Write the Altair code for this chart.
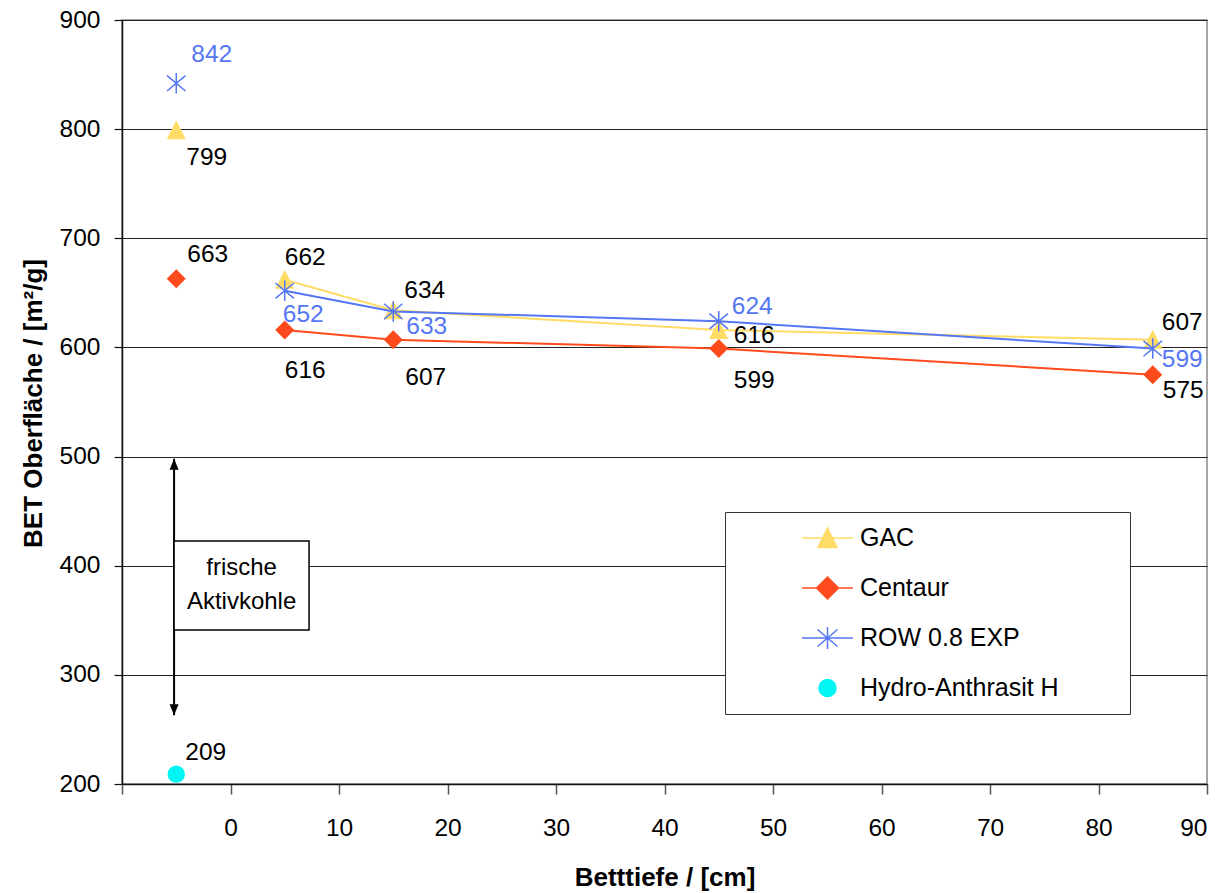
import altair as alt
import pandas as pd

# ---------------- data ----------------
DEPTH = [-5, 5, 15, 45, 85]
GAC = [799, 662, 634, 616, 607]
CENTAUR = [663, 616, 607, 599, 575]
ROW = [842, 652, 633, 624, 599]
HYDRO_DEPTH = [-5]
HYDRO = [209]
SERIES = ["GAC", "Centaur", "ROW 0.8 EXP", "Hydro-Anthrasit H"]
X_TICKS = [-10, 0, 10, 20, 30, 40, 50, 60, 70, 80, 90]
Y_TICKS = [200, 300, 400, 500, 600, 700, 800, 900]

# annotation ("frische Aktivkohle") in data units
BOX = {"bx1": -5.2, "bx2": 7.24, "by1": 341.0, "by2": 422.6}
ARROW = {"ax": -5.2, "ay_low": 263.0, "ay_high": 498.0}
NOTE_TEXT = "frische\nAktivkohle"
NOTE_POS = {"tx": 1.02, "ty": 397.9}

# ---------------- styles ----------------
FONT = "Liberation Sans"
COLORS = {"GAC": "#FFDC66", "Centaur": "#FF4A1E", "ROW 0.8 EXP": "#5577F5",
          "Hydro-Anthrasit H": "#00F5F5"}
LABEL_COLORS = {"GAC": "black", "Centaur": "black", "ROW 0.8 EXP": "#5577F5",
                "Hydro-Anthrasit H": "black"}
ASTER = "M0,-1L0,1M-0.9,-0.75L0.9,0.75M-0.9,0.75L0.9,-0.75"
TRI = "M0,-1L0.95,0.9L-0.95,0.9Z"
MARKERS = {
    "GAC": dict(shape=TRI, size=400, filled=True),
    "Centaur": dict(shape="diamond", size=360, filled=True),
    "ROW 0.8 EXP": dict(shape=ASTER, size=420, filled=False, strokeWidth=1.5),
    "Hydro-Anthrasit H": dict(shape="circle", size=300, filled=True),
}
# label offsets in pixels (dx, dy) for each (series, depth)
LABEL_OFFSETS = {
    ("ROW 0.8 EXP", -5): (15, -28), ("GAC", -5): (10, 28), ("Centaur", -5): (11, -24),
    ("Hydro-Anthrasit H", -5): (9, -21),
    ("GAC", 5): (0, -22), ("ROW 0.8 EXP", 5): (-2, 24), ("Centaur", 5): (0, 41),
    ("GAC", 15): (11, -19), ("ROW 0.8 EXP", 15): (13, 16), ("Centaur", 15): (12, 38),
    ("ROW 0.8 EXP", 45): (13, -14), ("GAC", 45): (15, 6), ("Centaur", 45): (15, 32),
    ("GAC", 85): (9, -17), ("ROW 0.8 EXP", 85): (9, 11), ("Centaur", 85): (10, 16),
}
# legend symbols: line + marker (unit = 29.25 px)
LEG_SIZE = 3422
LEG_SHAPES = [
    "M-0.872,0L0.872,0M0,-0.342L0.325,0.325L-0.325,0.325Z",
    "M-0.872,0L0.872,0M-0.376,0L0,-0.376L0.376,0L0,0.376Z",
    "M-0.872,0L0.872,0M0,-0.376L0,0.376M-0.342,-0.291L0.342,0.291M-0.342,0.291L0.342,-0.291",
    "M-0.291,0A0.291,0.291 0 1,1 0.291,0A0.291,0.291 0 1,1 -0.291,0Z",
]
# invisible trailing spaces (kept by a zero-width end char) widen the legend frame
LEG_LABEL_EXPR = "datum.label + '" + "\u00a0" * 10 + "\u200b'"

rows = []
for name, vals, xs in [("GAC", GAC, DEPTH), ("Centaur", CENTAUR, DEPTH),
                       ("ROW 0.8 EXP", ROW, DEPTH), ("Hydro-Anthrasit H", HYDRO, HYDRO_DEPTH)]:
    for d, v in zip(xs, vals):
        rows.append({"series": name, "depth": d, "value": v})
df = pd.DataFrame(rows)

X = alt.X("depth:Q", scale=alt.Scale(domain=[-10, 90], nice=False, zero=False),
          axis=alt.Axis(values=X_TICKS, labelExpr="datum.value == -10 ? '' : datum.label",
                        title="Betttiefe / [cm]", grid=False, tickSize=10, labelPadding=22,
                        tickColor="#555", tickWidth=1.5, domainColor="#111", domainWidth=1.5,
                        labelFont=FONT, labelFontSize=24.5, labelColor="black",
                        titleFont=FONT, titleFontSize=26, titleFontWeight="bold",
                        titleColor="black", titleY=101, titleBaseline="alphabetic"))
Y = alt.Y("value:Q", scale=alt.Scale(domain=[200, 900], nice=False, zero=False),
          axis=alt.Axis(values=Y_TICKS, title="BET Oberfläche / [m²/g]", grid=True,
                        gridColor="#222", gridWidth=1, tickSize=8, labelPadding=14,
                        tickColor="#111", tickWidth=1.2, domainColor="#111", domainWidth=1.5,
                        labelFont=FONT, labelFontSize=24.5, labelColor="black",
                        titleFont=FONT, titleFontSize=26, titleFontWeight="bold",
                        titleColor="black", titleAngle=270, titleX=-81, titleY=383,
                        titleAlign="center", titleBaseline="alphabetic"))

base = alt.Chart(df)
layers = []

# annotation: arrow + box + text
ann_df = pd.DataFrame([{**BOX, **ARROW, **NOTE_POS, "txt": NOTE_TEXT}])
ann = alt.Chart(ann_df)
layers.append(ann.mark_rule(color="black", strokeWidth=2).encode(
    x=alt.X("ax:Q"), y=alt.Y("ay_low:Q"), y2="ay_high:Q"))
layers.append(ann.mark_point(shape="M0,0L0.45,1.1L-0.45,1.1Z", size=400, filled=True,
                             color="black", opacity=1).encode(x="ax:Q", y="ay_high:Q"))
layers.append(ann.mark_point(shape="M0,0L0.45,-1.1L-0.45,-1.1Z", size=400, filled=True,
                             color="black", opacity=1).encode(x="ax:Q", y="ay_low:Q"))
layers.append(ann.mark_rect(fill="white", stroke="black", strokeWidth=1.5).encode(
    x="bx1:Q", x2="bx2:Q", y="by1:Q", y2="by2:Q"))
layers.append(ann.mark_text(font=FONT, fontSize=24, color="black", lineBreak="\n",
                            lineHeight=34, align="center", baseline="middle").encode(
    x=alt.X("tx:Q"), y=alt.Y("ty:Q"), text="txt:N"))

# series lines and markers
for s in SERIES:
    sub = base.transform_filter(alt.datum.series == s)
    if s != "Hydro-Anthrasit H":
        layers.append(sub.transform_filter(alt.datum.depth > 0).mark_line(
            color=COLORS[s], strokeWidth=2).encode(x=X, y=Y))
    m = MARKERS[s]
    kw = dict(shape=m["shape"], size=m["size"], filled=m["filled"], opacity=1)
    if m["filled"]:
        kw.update(fill=COLORS[s], strokeWidth=0)
    else:
        kw.update(stroke=COLORS[s], strokeWidth=m["strokeWidth"])
    layers.append(sub.mark_point(**kw).encode(x=X, y=Y))

# data labels
for (s, d), (dx, dy) in LABEL_OFFSETS.items():
    layers.append(base.transform_filter((alt.datum.series == s) & (alt.datum.depth == d))
                  .mark_text(font=FONT, fontSize=24.5, color=LABEL_COLORS[s], align="left",
                             baseline="middle", dx=dx, dy=dy)
                  .encode(x=X, y=Y, text="value:Q"))

# legend (from an empty layer)
leg = alt.Legend(title=None, orient="none", legendX=603, legendY=492, padding=1,
                 clipHeight=50, rowPadding=0, symbolSize=LEG_SIZE, symbolStrokeWidth=1.5,
                 symbolOffset=71.5, labelOffset=2.5, labelFontSize=25, labelFont=FONT,
                 labelColor="black", fillColor="white", strokeColor="#333", labelLimit=600,
                 symbolOpacity=1, labelExpr=LEG_LABEL_EXPR)
col_scale = alt.Scale(domain=SERIES, range=[COLORS[s] for s in SERIES])
layers.append(base.transform_filter("false").mark_point(filled=True, size=LEG_SIZE,
                                                         strokeWidth=1.5).encode(
    fill=alt.Fill("series:N", scale=col_scale, legend=leg),
    stroke=alt.Stroke("series:N", scale=col_scale, legend=leg),
    shape=alt.Shape("series:N", scale=alt.Scale(domain=SERIES, range=LEG_SHAPES), legend=leg),
))

chart = alt.layer(*layers).properties(
    width=1085, height=764,
    padding={"left": 122, "top": 20, "right": 15, "bottom": 109},
    autosize=alt.AutoSizeParams(type="none"),
    background="white",
).configure_view(stroke="#888888", strokeWidth=1.5)

chart.save("out.html", embed_options={"renderer": "svg", "actions": False})
